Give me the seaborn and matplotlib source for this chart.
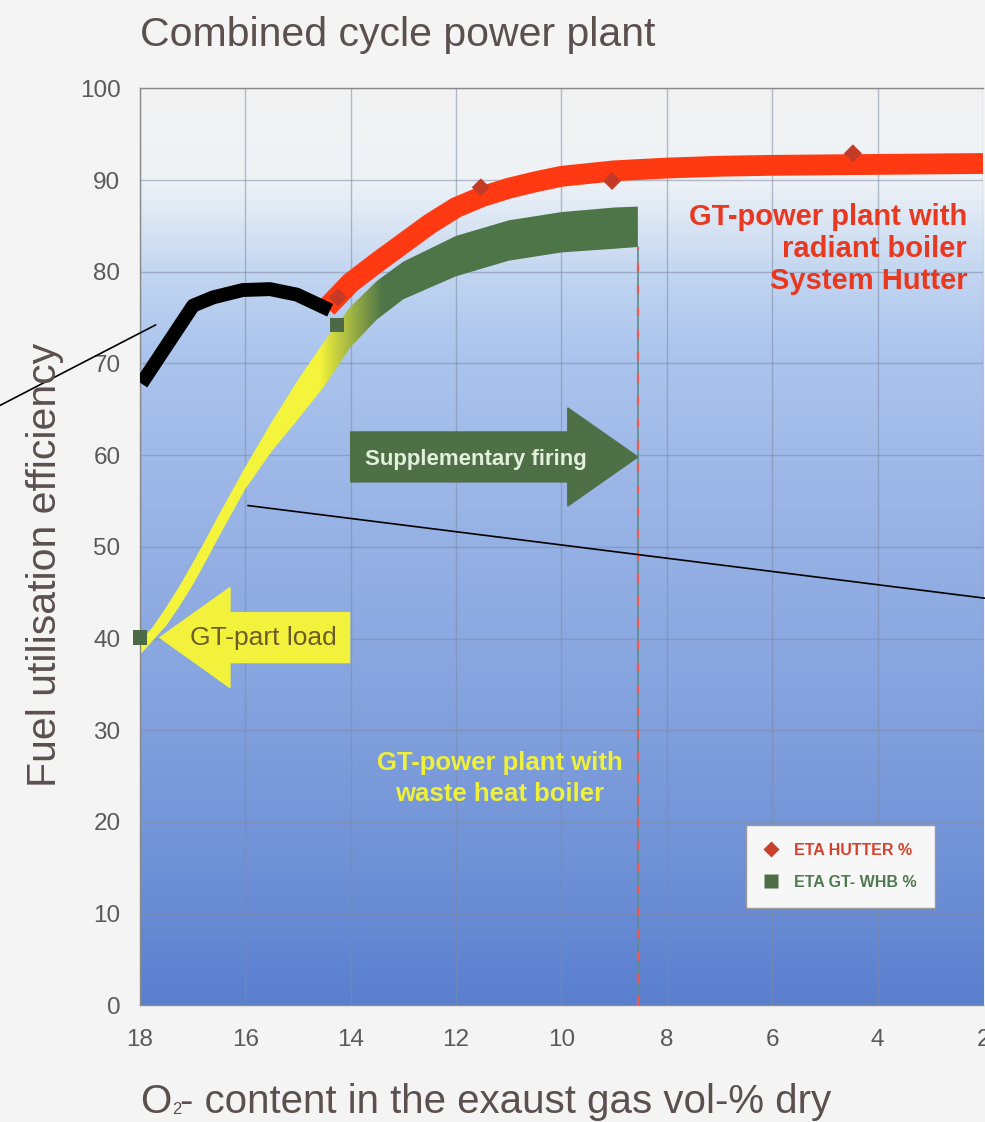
import numpy as np
import matplotlib
matplotlib.use("Agg")
import matplotlib.pyplot as plt
import seaborn as sns
from matplotlib.colors import LinearSegmentedColormap
from matplotlib.patches import FancyArrow
from matplotlib.lines import Line2D

# ---------------- data ----------------
title = "Combined cycle power plant"
xlabel_parts = ["O", "2", "- content in the exaust gas vol-% dry"]
ylabel = "Fuel utilisation efficiency"
x_ticks = [18, 16, 14, 12, 10, 8, 6, 4, 2]
y_ticks = [0, 10, 20, 30, 40, 50, 60, 70, 80, 90, 100]

# ETA HUTTER % data points (red diamonds)
hutter_x = [14.24, 11.53, 9.04, 4.47]
hutter_y = [77.2, 89.2, 89.9, 92.9]
# ETA GT-WHB % data points (green squares)
whb_x = [18.0, 14.26]
whb_y = [40.1, 74.2]

# red band: GT-power plant with radiant boiler
hutter_band_x = [14.45, 14.0, 13.5, 13.0, 12.5, 12.0, 11.5, 11.0, 10.5, 10.0, 9.0, 8.0, 7.0, 6.0, 4.0, 2.0]
hutter_band_y = [76.1, 78.8, 81.0, 83.1, 85.2, 87.0, 88.2, 89.1, 89.8, 90.4, 91.0, 91.3, 91.5, 91.6, 91.7, 91.8]

# yellow/green band: GT-power plant with waste heat boiler (+ supplementary firing)
whb_band_x = [18.0, 17.75, 17.5, 17.25, 17.0, 16.75, 16.5, 16.25, 16.0, 15.5, 15.0, 14.5, 14.0, 13.5, 13.0, 12.0, 11.0, 10.0, 9.0, 8.55]
whb_band_upper = [39.6, 41.3, 43.4, 45.7, 48.2, 50.8, 53.5, 56.1, 58.7, 63.6, 68.2, 72.4, 76.2, 79.0, 81.1, 83.9, 85.6, 86.5, 87.0, 87.1]
whb_band_lower = [38.2, 39.8, 41.4, 43.5, 45.8, 48.4, 51.1, 53.7, 56.3, 60.4, 63.9, 67.5, 71.8, 74.8, 77.0, 79.5, 81.2, 82.1, 82.5, 82.7]

# black hand-drawn part-load curve
partload_x = [17.97, 16.99, 16.61, 16.05, 15.53, 15.02, 14.39]
partload_y = [67.8, 76.3, 77.2, 78.0, 78.1, 77.5, 75.8]

# thin pointer lines
pointer1_x = [20.66, 17.70]
pointer1_y = [65.4, 74.2]
pointer2_x = [15.95, 1.97]
pointer2_y = [54.5, 44.4]

# vertical limit of supplementary firing
limit_x = 8.55
limit_top = 82.7

# ---------------- style ----------------
sns.set_theme(style="white")
plt.rcParams["font.family"] = ["Liberation Sans", "DejaVu Sans"]

RED = "#ff3a12"
RED_MK = "#c43a26"
GREEN = "#4e7548"
GREEN_MK = "#4d6a48"
YELLOW = "#f4f43c"
TXT = "#5c4f4f"

fig = plt.figure(figsize=(9.85, 11.22), dpi=100)
fig.patch.set_facecolor("#f4f4f4")
ax = fig.add_axes([0.142, 0.104, 0.856, 0.8173])

# background gradient
bg_cmap = LinearSegmentedColormap.from_list("bg", [
    (0.00, "#5a7fcf"), (0.15, "#6f91d6"), (0.35, "#86a4df"), (0.55, "#9ab5e6"),
    (0.72, "#adc6ee"), (0.80, "#c3d6f1"), (0.86, "#dde7f4"), (0.90, "#eef2f6"),
    (1.00, "#f3f3f3")])
grad_v = np.linspace(0, 1, 512).reshape(-1, 1)
ax.imshow(grad_v, extent=[18, 2, 0, 100], aspect="auto", cmap=bg_cmap,
          origin="lower", zorder=0, interpolation="bicubic")

# waste heat boiler band, yellow -> green gradient
poly_x = np.concatenate([whb_band_x, whb_band_x[::-1]])
poly_y = np.concatenate([whb_band_upper, whb_band_lower[::-1]])
band = ax.fill(poly_x, poly_y, facecolor="none", edgecolor="none", zorder=2)[0]
f1 = (18 - 14.6) / (18 - 8.55)
f2 = (18 - 13.4) / (18 - 8.55)
band_cmap = LinearSegmentedColormap.from_list("band", [
    (0, YELLOW), (f1, YELLOW), (f2, GREEN), (1, GREEN)])
grad_h = np.linspace(0, 1, 512).reshape(1, -1)
im = ax.imshow(grad_h, extent=[18, 8.55, 0, 100], aspect="auto", cmap=band_cmap,
               origin="lower", zorder=2)
im.set_clip_path(band)

# vertical limit line
ax.plot([limit_x, limit_x], [0, limit_top], color="#5f8c8a", lw=1.2, zorder=2.5)
ax.plot([limit_x, limit_x], [0, limit_top], color="#ee5a50", lw=1.6,
        dashes=(4, 6), zorder=2.6)

# red band
sns.lineplot(x=hutter_band_x, y=hutter_band_y, sort=False, color=RED,
             linewidth=15, solid_capstyle="butt", solid_joinstyle="round",
             ax=ax, zorder=3)

# arrows
green_arrow = FancyArrow(14.0, 59.8, 8.55 - 14.0, 0, width=5.45, head_width=10.7,
                         head_length=1.33, length_includes_head=True,
                         color="#4f6f47", zorder=4)
ax.add_patch(green_arrow)
yellow_arrow = FancyArrow(14.02, 40.1, 17.62 - 14.02, 0, width=5.45, head_width=10.9,
                          head_length=1.33, length_includes_head=True,
                          color="#f2f23c", zorder=4)
ax.add_patch(yellow_arrow)

# markers
sns.scatterplot(x=hutter_x, y=hutter_y, marker="D", s=85, color=RED_MK,
                edgecolor="none", ax=ax, zorder=5)
sns.scatterplot(x=whb_x, y=whb_y, marker="s", s=110, color=GREEN_MK,
                edgecolor="none", ax=ax, zorder=5, clip_on=False)

# black curve
sns.lineplot(x=partload_x, y=partload_y, sort=False, color="black",
             linewidth=10, solid_capstyle="butt", solid_joinstyle="round",
             ax=ax, zorder=6)

# thin pointer lines
ax.plot(pointer1_x, pointer1_y, color="black", lw=1.2, zorder=6, clip_on=False)
ax.plot(pointer2_x, pointer2_y, color="black", lw=1.2, zorder=6, clip_on=False)

# texts inside
ax.text(11.62, 59.5, "Supplementary firing", color="#e2f0dc", fontsize=16,
        fontweight="bold", ha="center", va="center", zorder=7)
ax.text(15.65, 40.1, "GT-part load", color="#6b5c2a", fontsize=19,
        ha="center", va="center", zorder=7)
ax.text(11.17, 24.7, "GT-power plant with\nwaste heat boiler", color="#eef03a",
        fontsize=18.5, fontweight="bold", ha="center", va="center",
        linespacing=1.35, zorder=7)
ax.text(2.3, 82.5, "GT-power plant with\nradiant boiler\nSystem Hutter",
        color="#e8381f", fontsize=21, fontweight="bold", ha="right",
        va="center", multialignment="right", linespacing=1.18, zorder=7)

# axes formatting
ax.set_xlim(18, 2)
ax.set_ylim(0, 100)
ax.set_xticks(x_ticks)
ax.set_yticks(y_ticks)
ax.set_xticklabels([str(v) for v in x_ticks])
ax.set_yticklabels([str(v) for v in y_ticks])
ax.grid(True, color="#7f8aa6", alpha=0.55, lw=1)
ax.set_axisbelow(True)
ax.tick_params(axis="both", length=5, width=1, color="#8a8a8a",
               labelcolor="#5a5a5a", labelsize=17.5, direction="out")
ax.tick_params(axis="x", pad=12)
ax.tick_params(axis="y", pad=9)
for side in ["left", "bottom", "top"]:
    ax.spines[side].set_color("#8a8a8a")
    ax.spines[side].set_linewidth(1)
ax.spines["right"].set_visible(False)
ax.set_xlabel("")
ax.set_ylabel("")

# legend
handles = [
    Line2D([], [], marker="D", linestyle="none", markerfacecolor="#c8402a",
           markeredgecolor="none", markersize=8),
    Line2D([], [], marker="s", linestyle="none", markerfacecolor="#4e6e48",
           markeredgecolor="none", markersize=9.5),
]
leg = ax.legend(handles, ["ETA HUTTER %", "ETA GT- WHB %"], loc="center",
                bbox_to_anchor=(0.831, 0.1516), frameon=True, fancybox=False,
                facecolor="#f7f7f7", edgecolor="#9a9a9a", framealpha=1,
                prop={"family": "Liberation Sans", "weight": "bold", "size": 11.5},
                borderpad=1.1, labelspacing=1.1, handlelength=0.9,
                handletextpad=1.0)
leg.get_frame().set_linewidth(1)
leg.set_zorder(8)
for t, c in zip(leg.get_texts(), ["#d9402c", "#4f7a4f"]):
    t.set_color(c)

# figure texts
fig.text(0.142, 1 - 46 / 1122, title, fontsize=29.5, color=TXT, ha="left",
         va="baseline")
fig.text(0.0457, 0.4964, ylabel, fontsize=29.5, color=TXT, rotation=90,
         ha="center", va="center")

# x label with a small subscript, built from pieces
renderer = fig.canvas.get_renderer()
base_y = 9 / 1122
x0 = 0.142
t_o = fig.text(x0, base_y, xlabel_parts[0], fontsize=29, color=TXT,
               ha="left", va="baseline")
bb = t_o.get_window_extent(renderer)
x1 = bb.x1 / fig.bbox.width
t_2 = fig.text(x1 + 0.001, base_y - 0.001, xlabel_parts[1], fontsize=12,
               color=TXT, ha="left", va="baseline")
bb2 = t_2.get_window_extent(renderer)
x2 = bb2.x1 / fig.bbox.width
fig.text(x2 - 0.002, base_y, xlabel_parts[2], fontsize=29, color=TXT,
         ha="left", va="baseline")

fig.savefig("out.png", dpi=100, facecolor=fig.get_facecolor())
